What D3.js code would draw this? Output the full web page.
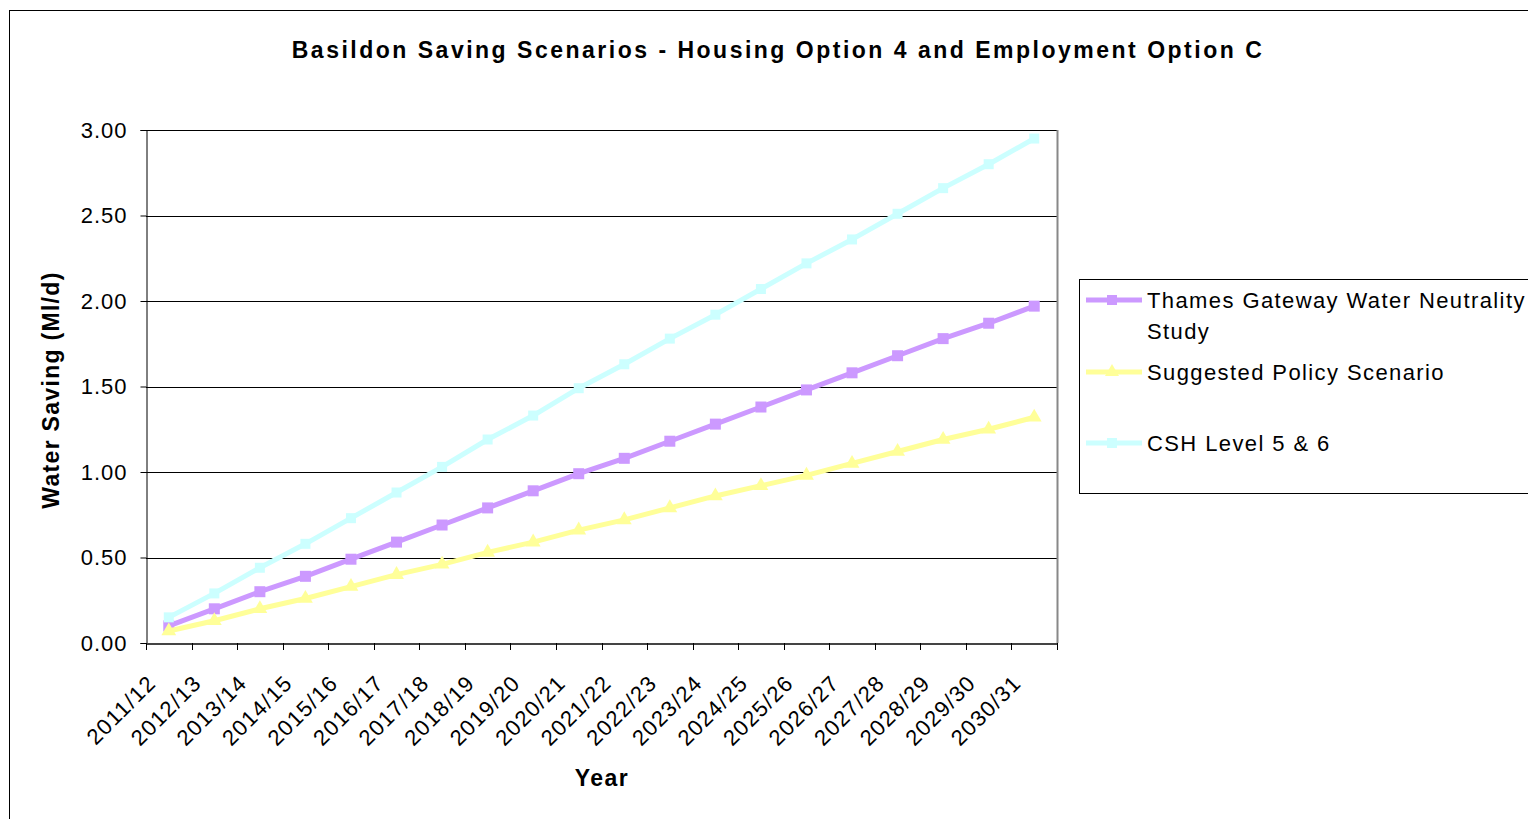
<!DOCTYPE html>
<html><head><meta charset="utf-8">
<script src="https://cdn.jsdelivr.net/npm/d3@7"></script>
<style>body{margin:0;background:#fff;}svg{display:block;font-family:"Liberation Sans",Arial,sans-serif;}</style>
</head><body>
<svg id="c" width="1528" height="819"></svg>
<script>
const categories = ["2011/12","2012/13","2013/14","2014/15","2015/16","2016/17","2017/18","2018/19","2019/20","2020/21","2021/22","2022/23","2023/24","2024/25","2025/26","2026/27","2027/28","2028/29","2029/30","2030/31"];
const thames = [0.10,0.20,0.30,0.39,0.49,0.59,0.69,0.79,0.89,0.99,1.08,1.18,1.28,1.38,1.48,1.58,1.68,1.78,1.87,1.97];
const policy = [0.07,0.13,0.20,0.26,0.33,0.40,0.46,0.53,0.59,0.66,0.72,0.79,0.86,0.92,0.98,1.05,1.12,1.19,1.25,1.32];
const csh = [0.15,0.29,0.44,0.58,0.73,0.88,1.03,1.19,1.33,1.49,1.63,1.78,1.92,2.07,2.22,2.36,2.51,2.66,2.80,2.95];
const yTicks = [0,0.5,1.0,1.5,2.0,2.5,3.0];
const seriesNames = ["Thames Gateway Water Neutrality Study","Suggested Policy Scenario","CSH Level 5 & 6"];

const series = [
  {name: seriesNames[0], values: thames, color: "#CC99FF", marker: "square", size: 11},
  {name: seriesNames[1], values: policy, color: "#FFFF99", marker: "triangle", size: 95},
  {name: seriesNames[2], values: csh, color: "#CCFFFF", marker: "square", size: 10}
];

const svg = d3.select("#c");
svg.append("rect").attr("x",9.5).attr("y",10.5).attr("width",1540).attr("height",830)
  .attr("fill","none").attr("stroke","#000").attr("stroke-width",1);

const L=146, R=1057, T=130, B=643;
const x = d3.scaleBand().domain(categories).range([L,R]);
const y = d3.scaleLinear().domain([0,3]).range([B,T]);

svg.append("g").selectAll("line").data(yTicks.filter(d=>d>0)).join("line")
  .attr("x1",L).attr("x2",R).attr("y1",d=>Math.round(y(d))+0.5).attr("y2",d=>Math.round(y(d))+0.5)
  .attr("stroke","#000").attr("stroke-width",1);
svg.append("line").attr("x1",R+0.5).attr("x2",R+0.5).attr("y1",T).attr("y2",B).attr("stroke","#888").attr("stroke-width",2);

const yAxis = d3.axisLeft(y).tickValues(yTicks).tickFormat(d3.format(".2f")).tickSize(6).tickPadding(13);
const gy = svg.append("g").attr("transform",`translate(${L+0.5},0)`).call(yAxis);
gy.select(".domain").attr("stroke","#000").attr("stroke-width",1);
gy.selectAll(".tick line").attr("stroke","#000");
gy.selectAll(".tick text").attr("font-size",22).attr("letter-spacing","1px").attr("fill","#000")
  .attr("font-family","Liberation Sans, Arial, sans-serif");

const xAxis = d3.axisBottom(x).tickSize(0).tickFormat("");
const gx = svg.append("g").attr("transform",`translate(0,${B+0.5})`).call(xAxis);
gx.select(".domain").attr("stroke","#444").attr("stroke-width",2);
const bounds = categories.map(c=>x(c)).concat([R]);
svg.append("g").selectAll("line").data(bounds).join("line")
  .attr("x1",d=>Math.round(d)+0.5).attr("x2",d=>Math.round(d)+0.5).attr("y1",B).attr("y2",B+7)
  .attr("stroke","#000").attr("stroke-width",1);
svg.append("g").selectAll("text").data(categories).join("text")
  .attr("transform",d=>`translate(${x(d)+x.bandwidth()/2-17},${B+36}) rotate(-45)`)
  .attr("text-anchor","end").attr("dy","0.35em").attr("letter-spacing","1.3px")
  .attr("font-size",22).attr("fill","#000").text(d=>d);

const line = d3.line().x((d,i)=>x(categories[i])+x.bandwidth()/2).y(d=>y(d));
series.forEach(s=>{
  svg.append("path").datum(s.values).attr("d",line).attr("fill","none")
    .attr("stroke",s.color).attr("stroke-width",5).attr("stroke-linejoin","round");
  const g = svg.append("g");
  if (s.marker==="square") {
    const sz = s.size;
    g.selectAll("rect").data(s.values).join("rect")
      .attr("x",(d,i)=>x(categories[i])+x.bandwidth()/2-sz/2).attr("y",d=>y(d)-sz/2)
      .attr("width",sz).attr("height",sz).attr("fill",s.color);
  } else {
    g.selectAll("path").data(s.values).join("path")
      .attr("transform",(d,i)=>`translate(${x(categories[i])+x.bandwidth()/2},${y(d)})`)
      .attr("d",d3.symbol(d3.symbolTriangle,s.size)).attr("fill",s.color);
  }
});

svg.append("text").attr("x",778).attr("y",58).attr("text-anchor","middle")
  .attr("font-size",23).attr("font-weight","bold").attr("letter-spacing","2.5px").attr("fill","#000")
  .text("Basildon Saving Scenarios - Housing Option 4 and Employment Option C");
svg.append("text").attr("transform","translate(59,390) rotate(-90)").attr("text-anchor","middle")
  .attr("font-size",23).attr("font-weight","bold").attr("letter-spacing","1.3px").attr("fill","#000").text("Water Saving (Ml/d)");
svg.append("text").attr("x",602).attr("y",786).attr("text-anchor","middle")
  .attr("font-size",23).attr("font-weight","bold").attr("letter-spacing","1.5px").attr("fill","#000").text("Year");

svg.append("rect").attr("x",1079.5).attr("y",279.5).attr("width",500).attr("height",214)
  .attr("fill","#fff").attr("stroke","#000").attr("stroke-width",1);
const legRows = [
  {s:series[0], y:300, lines:["Thames Gateway Water Neutrality","Study"]},
  {s:series[1], y:372, lines:["Suggested Policy Scenario"]},
  {s:series[2], y:443, lines:["CSH Level 5 & 6"]}
];
legRows.forEach(r=>{
  svg.append("line").attr("x1",1086).attr("x2",1142).attr("y1",r.y).attr("y2",r.y)
    .attr("stroke",r.s.color).attr("stroke-width",5);
  if (r.s.marker==="square") {
    svg.append("rect").attr("x",1107).attr("y",r.y-5).attr("width",10).attr("height",10).attr("fill",r.s.color);
  } else {
    svg.append("path").attr("transform",`translate(1112,${r.y})`).attr("d",d3.symbol(d3.symbolTriangle,85)).attr("fill",r.s.color);
  }
  r.lines.forEach((t,i)=>{
    svg.append("text").attr("x",1147).attr("y",r.y+8+i*31).attr("font-size",22).attr("letter-spacing","1.4px").attr("fill","#000").text(t);
  });
});
</script>
</body></html>
